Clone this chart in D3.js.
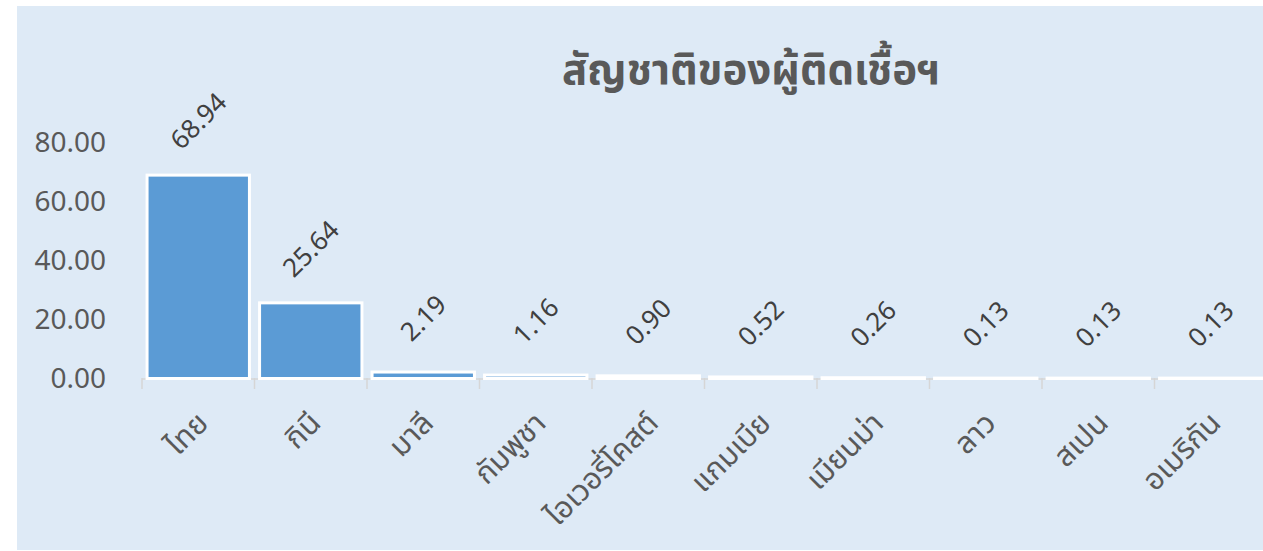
<!DOCTYPE html>
<html>
<head>
<meta charset="utf-8">
<script src="https://cdn.jsdelivr.net/npm/d3@7"></script>
<style>
  body { margin: 0; background: #fff; }
  text { font-family: "Noto Sans", "Noto Sans Thai", sans-serif; }
</style>
</head>
<body>
<script>
// chart data
let categories = ["ไทย", "กินี", "มาลี", "กัมพูชา", "ไอเวอรี่โคสต์", "แกมเบีย", "เมียนม่า", "ลาว", "สเปน", "อเมริกัน"];
let values = [68.94, 25.64, 2.19, 1.16, 0.90, 0.52, 0.26, 0.13, 0.13, 0.13];
let yTicks = [0, 20, 40, 60, 80];
let title = "สัญชาติของผู้ติดเชื้อฯ";

let width = 1263;
let height = 551;

let svg = d3.select("body").append("svg")
    .attr("width", width)
    .attr("height", height);

// chart background
svg.append("rect")
    .attr("x", 17)
    .attr("y", 6)
    .attr("width", width - 17)
    .attr("height", height - 7)
    .attr("fill", "#deeaf6");

// set the ranges
let xScale = d3.scaleBand()
    .domain(categories)
    .range([142, 1267])
    .paddingInner(0.09)
    .paddingOuter(0.045);

let yScale = d3.scaleLinear()
    .domain([0, 80])
    .range([378.5, 142.5]);

// title
svg.append("text")
    .attr("x", 751)
    .attr("y", 84)
    .attr("text-anchor", "middle")
    .attr("font-size", 42)
    .attr("font-weight", "bold")
    .attr("fill", "#595959")
    .text(title);

// y axis labels only
let yAxis = svg.append("g")
    .attr("transform", "translate(106,0)")
    .call(d3.axisLeft(yScale).tickValues(yTicks).tickFormat(d3.format(".2f")).tickSize(0).tickPadding(0));
yAxis.select(".domain").remove();
yAxis.selectAll("text")
    .attr("font-size", 28)
    .attr("fill", "#595959")
    .style("font-family", "'Noto Sans', sans-serif");

// x axis line and ticks at band edges
let step = xScale.step();
let edges = d3.range(categories.length + 1).map(function(i) { return 142 + i * step; });
svg.append("line")
    .attr("x1", 142).attr("x2", width)
    .attr("y1", 379).attr("y2", 379)
    .attr("stroke", "#d6d6d6")
    .attr("stroke-width", 1.5);
svg.selectAll(".xtick")
    .data(edges)
  .enter().append("line")
    .attr("class", "xtick")
    .attr("x1", function(d) { return d; }).attr("x2", function(d) { return d; })
    .attr("y1", 378).attr("y2", 389)
    .attr("stroke", "#d6d6d6")
    .attr("stroke-width", 1.5);

// bars
svg.selectAll(".bar")
    .data(values)
  .enter().append("rect")
    .attr("class", "bar")
    .attr("x", function(d, i) { return xScale(categories[i]); })
    .attr("width", xScale.bandwidth())
    .attr("y", function(d) { return yScale(d); })
    .attr("height", function(d) { return yScale(0) - yScale(d); })
    .attr("fill", "#5b9bd5")
    .attr("stroke", "#ffffff")
    .attr("stroke-width", 3);

// data labels, rotated
svg.selectAll(".val")
    .data(values)
  .enter().append("text")
    .attr("class", "val")
    .attr("transform", function(d, i) {
        let cx = xScale(categories[i]) + xScale.bandwidth() / 2;
        let cy = yScale(d) - 54;
        return "translate(" + cx + "," + cy + ") rotate(-45)";
    })
    .attr("text-anchor", "middle")
    .attr("dy", "0.35em")
    .attr("font-size", 26)
    .attr("fill", "#404040")
    .text(function(d) { return d3.format(".2f")(d); });

// category labels, rotated
svg.selectAll(".cat")
    .data(categories)
  .enter().append("text")
    .attr("class", "cat")
    .attr("transform", function(d) {
        let cx = xScale(d) + xScale.bandwidth() / 2 - 3;
        return "translate(" + cx + ",410) rotate(-45)";
    })
    .attr("text-anchor", "end")
    .attr("dy", "0.7em")
    .attr("font-size", 30)
    .attr("fill", "#595959")
    .text(function(d) { return d; });
</script>
</body>
</html>
